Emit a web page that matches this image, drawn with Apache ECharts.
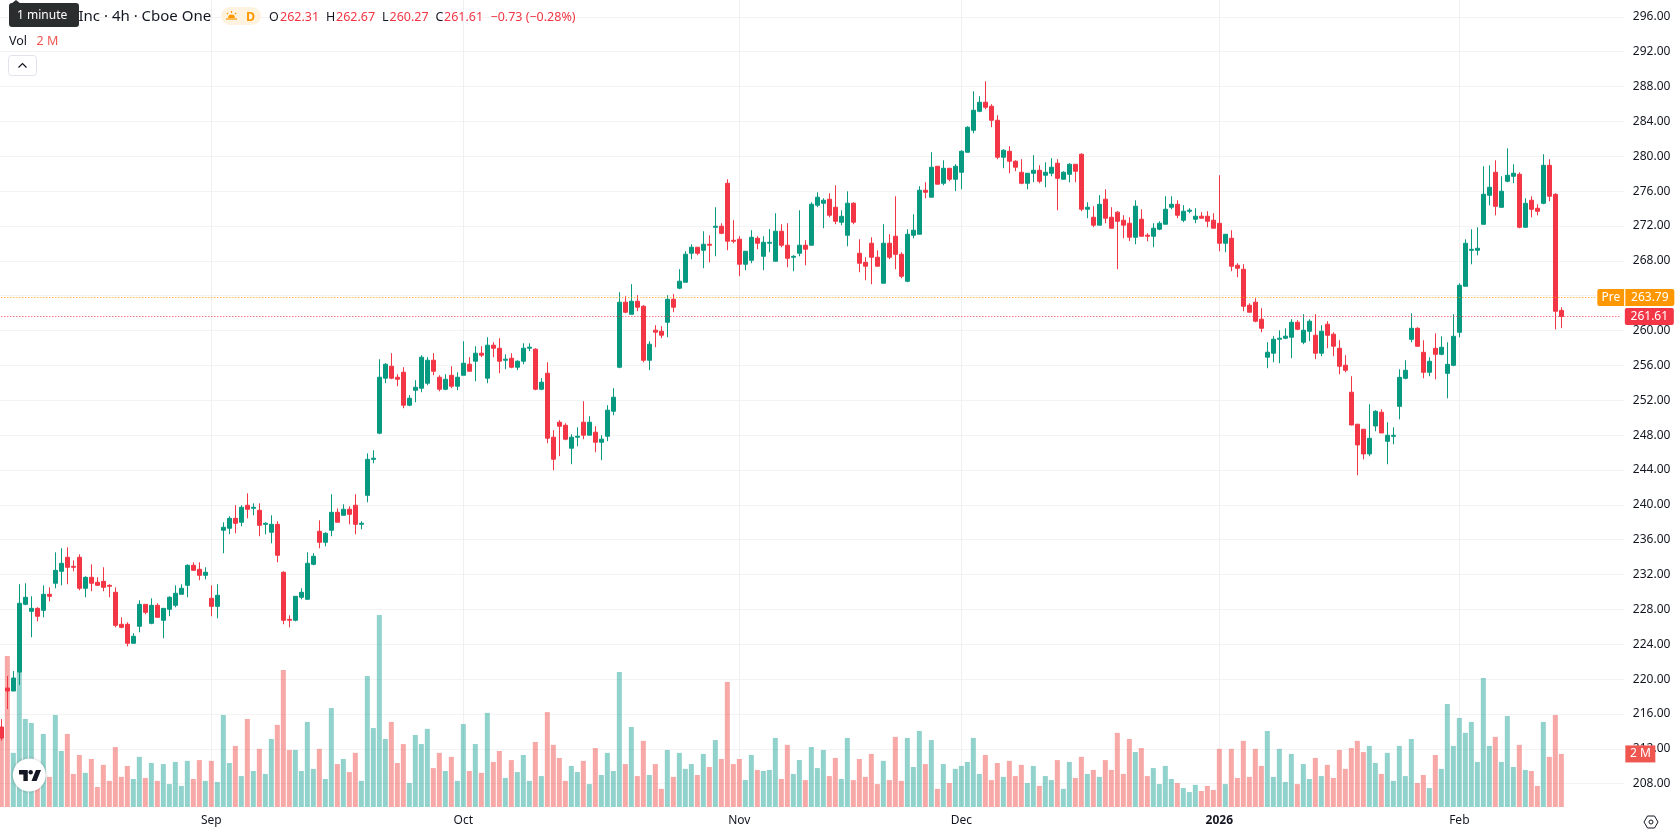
<!DOCTYPE html>
<html>
<head>
<meta charset="utf-8">
<title>Inc · 4h · Cboe One</title>
<script src="https://cdn.jsdelivr.net/npm/echarts@6/dist/echarts.min.js"></script>
<style>
  html, body { margin: 0; padding: 0; background: #ffffff; overflow: hidden; }
  /* The canvas starts two pixels left of the page so the first bar can hang off the edge. */
  #chart { position: absolute; left: -2px; top: 0; width: 1680px; height: 835px; }
</style>
</head>
<body>
<div id="chart"></div>
<script>
// 4-hour session bars, oldest first.
const opens = [
214.50,218.97,218.63,220.81,228.58,227.78,228.12,227.89,229.73,231.00,
232.37,233.98,232.94,233.98,230.42,231.68,231.11,231.22,230.76,229.96,
226.29,226.29,224.11,226.06,228.58,226.40,228.47,226.75,228.01,228.47,
229.73,230.76,233.06,232.60,231.91,229.27,228.35,237.08,237.31,238.45,
238.00,239.95,239.60,239.37,237.76,236.85,237.76,232.26,226.86,226.75,
229.39,229.16,233.17,236.96,235.70,237.08,239.14,238.80,239.49,239.95,
237.76,241.09,245.22,248.22,254.53,255.90,254.64,255.22,251.43,253.15,
253.38,253.95,256.59,254.64,253.26,254.87,253.61,254.87,256.13,256.48,
257.40,254.53,258.32,257.97,256.59,256.82,255.79,256.48,257.97,257.86,
253.26,255.10,247.76,249.48,249.13,246.49,247.76,249.48,247.99,248.33,
247.18,247.87,250.74,255.79,263.25,261.87,263.36,262.79,256.59,260.04,
259.92,260.95,263.59,264.86,265.54,268.87,269.56,269.21,269.90,271.85,
271.97,276.90,270.36,270.48,267.61,268.06,270.59,268.52,270.02,267.95,
271.39,269.79,268.41,268.87,269.79,269.79,274.38,274.61,275.07,274.15,
272.43,270.93,274.61,268.87,267.83,270.02,268.41,265.43,270.02,270.82,
268.75,265.65,270.93,271.05,276.10,275.30,278.85,276.90,278.62,277.36,
278.16,280.46,282.98,285.16,286.20,285.74,284.13,279.89,280.57,279.43,
278.16,276.90,278.05,278.39,277.82,278.05,279.20,277.36,277.93,279.08,
280.23,273.92,273.00,272.09,275.07,273.00,273.58,272.66,272.31,270.71,
272.77,270.94,270.82,271.63,272.20,274.15,274.49,272.66,273.69,272.77,
273.12,273.12,272.66,272.31,270.02,270.59,267.49,267.03,262.90,263.25,
261.30,256.94,257.40,259.00,259.12,259.23,260.95,258.66,259.92,259.46,
257.40,260.72,259.58,257.97,256.02,252.92,249.25,248.67,245.84,249.05,
250.62,247.29,247.86,251.30,254.52,258.99,260.26,257.50,255.21,257.96,
257.27,255.09,256.01,259.80,265.08,269.21,269.21,272.19,275.52,278.16,
274.14,277.13,277.70,277.93,271.85,274.95,274.03,274.60,278.96,275.63,
262.31];

const closes = [
213.23,218.63,220.12,228.70,229.39,228.12,227.21,229.73,229.50,232.48,
233.29,232.83,232.83,230.42,231.68,231.00,230.76,230.53,230.65,226.17,
225.94,224.11,224.91,228.58,227.66,228.47,227.09,228.12,229.39,229.85,
230.42,233.06,232.48,231.91,232.26,228.35,229.62,237.42,238.45,237.88,
239.72,239.49,239.72,237.65,237.88,237.76,234.21,226.75,226.75,229.50,
229.96,233.29,234.09,235.70,236.73,239.14,238.00,239.49,238.91,237.76,
237.88,245.22,245.34,254.64,256.13,254.53,254.41,251.43,252.23,253.49,
256.94,256.59,255.33,253.26,254.41,253.61,254.64,256.25,255.33,257.40,
257.17,258.32,257.97,256.48,256.71,255.79,256.48,257.97,258.09,253.26,
254.07,247.64,245.23,249.02,247.53,247.76,247.87,247.99,249.48,247.18,
247.53,250.86,252.35,263.25,262.10,263.36,262.68,256.59,258.43,259.81,
259.46,263.59,262.68,265.66,268.75,269.56,268.87,269.90,269.79,271.97,
271.16,270.25,270.25,267.61,269.10,270.70,270.02,270.13,270.13,271.39,
269.79,268.29,268.52,269.79,269.33,274.49,275.30,274.95,273.23,272.54,
273.11,274.61,272.43,267.72,267.38,268.41,267.38,270.02,268.41,268.75,
266.23,271.05,271.51,276.10,275.87,278.74,276.79,278.62,277.36,278.85,
280.57,283.33,285.28,286.20,285.62,284.13,279.89,280.69,279.43,278.74,
276.90,278.05,278.39,277.13,278.16,278.74,277.47,278.16,279.08,278.28,
273.92,274.15,272.09,274.49,272.89,271.74,272.54,272.09,270.71,274.27,
270.82,270.82,271.74,272.31,273.92,274.49,273.23,273.69,273.81,273.12,
272.89,272.54,271.74,270.02,271.05,267.38,267.15,262.79,262.10,261.07,
260.26,257.51,259.00,259.12,259.35,260.95,260.15,260.03,261.07,257.40,
259.92,259.46,258.20,255.90,255.44,249.16,246.87,245.84,247.63,250.73,
248.25,247.98,247.98,254.63,255.44,260.26,258.19,255.21,256.47,257.27,
258.08,256.12,259.34,265.19,270.01,269.32,269.44,275.64,276.44,274.26,
275.98,277.82,278.05,271.85,274.60,273.91,273.68,278.96,275.41,262.21,
261.61];

const highs = [
215.41,220.35,220.92,230.88,231.00,229.50,228.24,230.76,230.53,234.55,
235.01,235.12,233.63,234.32,231.80,233.17,231.68,232.83,230.88,230.53,
227.09,226.52,225.26,229.04,228.58,229.27,228.70,228.12,229.50,230.76,
230.88,233.17,233.40,233.40,232.83,230.76,230.88,237.99,238.68,239.95,
239.95,241.32,240.17,240.17,237.99,238.80,238.11,232.37,227.32,229.50,
230.42,234.55,234.44,238.22,236.85,241.21,239.60,240.06,239.83,241.21,
238.11,245.91,246.26,256.71,256.25,257.40,254.99,255.79,252.58,254.30,
257.17,256.94,257.40,254.87,254.99,255.90,255.22,258.77,256.94,258.20,
258.20,259.23,258.66,259.12,257.28,257.40,256.59,258.54,258.54,257.97,
254.53,256.36,248.56,249.71,249.36,248.10,248.90,251.89,250.17,249.02,
247.99,251.43,253.38,264.40,263.94,265.32,264.05,262.91,258.77,260.61,
260.50,264.05,264.17,267.04,269.10,269.90,269.56,271.39,270.93,274.15,
272.31,277.36,272.66,270.82,269.10,271.51,270.82,270.82,271.62,273.46,
272.20,272.31,268.64,273.80,270.36,274.72,275.87,275.18,275.75,276.67,
273.80,275.98,274.72,270.47,268.41,270.70,269.21,272.20,271.05,275.41,
268.98,271.62,273.34,276.56,277.02,280.46,278.85,279.54,278.62,279.08,
280.69,283.44,287.46,286.89,288.61,285.97,284.71,280.80,281.15,279.54,
279.66,278.05,280.12,278.97,279.31,279.77,279.66,278.28,279.20,279.08,
280.34,274.72,274.27,275.53,276.22,274.15,273.69,273.23,273.00,274.95,
273.92,271.17,272.31,272.54,275.41,275.41,274.95,274.38,274.04,274.04,
273.58,273.69,273.46,277.82,271.05,271.51,267.72,267.61,263.13,263.71,
262.56,258.66,259.35,260.03,260.26,261.30,261.18,261.87,261.30,261.87,
260.61,261.07,259.80,258.89,257.17,254.76,249.24,248.67,251.54,250.85,
250.96,249.47,248.90,255.55,256.58,261.98,260.37,258.88,256.93,259.68,
259.34,258.65,261.86,265.42,270.47,271.62,271.85,278.85,278.96,279.54,
277.70,280.91,279.08,278.16,275.18,275.41,274.49,280.23,279.65,275.75,
262.67];

const lows = [
212.93,216.56,218.63,219.32,228.47,224.80,226.63,227.09,228.93,230.42,
230.76,230.88,232.37,230.19,229.39,230.08,230.76,230.08,229.39,225.94,
225.83,223.76,224.11,225.37,227.44,226.29,227.09,224.68,227.21,228.24,
229.73,229.39,232.48,231.34,231.45,227.21,226.98,234.44,236.62,236.73,
237.53,238.45,238.80,236.39,236.62,235.58,233.40,226.29,225.94,226.63,
229.16,229.12,233.06,235.01,235.24,236.39,238.00,238.80,237.76,236.62,
237.19,240.29,244.77,248.10,253.95,254.41,253.61,251.08,251.31,251.77,
252.92,253.72,254.87,253.03,253.15,253.38,253.15,254.87,255.33,254.18,
256.94,253.95,256.94,255.10,255.56,255.67,255.45,256.13,257.63,253.15,
253.15,247.07,243.97,245.58,247.41,244.66,246.72,247.53,247.99,246.03,
245.12,247.30,250.28,255.67,261.99,261.87,262.22,256.36,255.45,258.09,
259.12,259.23,262.10,264.74,265.54,268.18,268.64,267.15,267.83,268.52,
271.05,269.21,270.02,266.23,266.92,267.72,269.33,266.92,268.98,267.95,
269.56,267.26,266.80,268.52,267.49,269.79,274.15,271.74,273.00,272.20,
272.08,269.67,272.20,266.69,265.77,265.31,267.38,265.43,268.18,267.03,
266.00,265.54,270.59,271.05,275.18,275.30,276.79,276.67,277.13,276.00,
276.21,280.46,282.64,285.05,285.39,283.33,279.66,278.62,278.05,278.28,
276.79,276.21,277.02,276.90,276.44,277.70,273.80,277.36,277.00,277.02,
273.69,272.89,271.86,272.09,272.31,271.74,267.04,270.59,270.25,269.90,
270.82,270.25,269.56,271.51,272.20,273.92,272.89,272.43,273.46,272.31,
272.89,271.86,271.74,269.10,268.99,266.81,266.12,262.22,262.10,260.95,
259.80,255.67,256.36,256.25,259.00,256.82,260.03,258.43,258.77,256.71,
257.05,257.97,257.05,254.98,255.21,249.13,243.39,245.22,245.57,248.44,
248.25,244.65,246.94,249.81,254.40,258.65,258.19,254.52,254.75,254.40,
257.16,252.22,255.90,259.22,265.08,267.60,268.63,272.19,274.37,273.22,
274.14,277.01,276.90,271.73,271.85,273.00,273.22,274.49,274.83,260.14,
260.27];

// Volume per bar, in millions of shares.
const volumes = [
2.58,5.66,2.03,5.06,3.30,3.15,1.51,2.74,1.13,3.45,
2.10,2.74,1.24,1.95,1.28,1.80,0.75,1.58,0.98,2.25,
1.13,1.54,1.05,1.88,1.09,1.65,0.98,1.61,0.86,1.69,
0.79,1.73,1.05,1.76,0.98,1.73,0.94,3.45,1.65,2.29,
1.16,3.30,1.35,2.18,1.24,2.55,3.08,5.14,2.14,2.14,
1.35,3.19,1.43,2.18,1.05,3.71,1.61,1.80,1.31,2.03,
0.98,4.91,2.96,7.20,2.55,3.19,1.65,2.36,0.90,2.70,
2.36,2.93,1.46,2.03,1.35,1.88,0.98,3.11,1.35,2.36,
1.28,3.53,1.69,2.10,1.09,1.76,1.31,1.95,0.98,2.44,
1.16,3.56,2.33,1.84,0.98,1.54,1.31,1.73,0.86,2.21,
1.20,2.03,1.35,5.06,1.61,3.00,1.16,2.48,1.20,1.61,
0.68,2.14,1.13,2.03,1.43,1.61,1.20,1.99,1.50,2.51,
1.80,4.69,1.61,1.80,1.01,1.95,1.39,1.35,1.39,2.59,
1.05,2.33,1.24,1.76,1.01,2.25,1.46,2.14,1.16,1.84,
1.05,2.59,1.01,1.80,1.13,1.99,0.86,1.73,1.01,2.63,
0.98,2.59,1.50,2.85,1.61,2.51,0.68,1.61,0.90,1.43,
1.54,1.69,2.59,1.24,1.95,1.01,1.65,1.13,1.73,1.16,
1.58,0.90,1.54,0.79,1.16,1.01,1.76,0.68,1.69,1.09,
1.88,1.24,1.39,1.13,1.76,1.39,2.78,1.24,2.55,2.06,
2.21,1.16,1.46,0.86,1.54,1.05,0.90,0.71,0.56,0.83,
0.60,0.79,0.64,2.18,0.86,2.18,1.09,2.48,1.13,2.18,
1.54,2.85,1.13,2.18,0.94,1.99,0.86,1.61,1.05,1.84,
1.16,1.58,1.09,2.14,1.43,2.21,2.48,2.06,2.29,1.65,
1.24,2.03,0.98,2.29,1.16,2.55,0.90,1.20,0.71,1.95,
1.43,3.86,2.29,3.34,2.78,3.19,1.69,4.84,2.29,2.63,
1.69,3.41,1.50,2.33,1.39,1.35,0.79,3.19,1.88,3.45,
1.99];

// Month ticks on the time axis and the bar each one falls on.
const tickBars = [35, 77, 123, 160, 203, 243];
const tickLabels = ['Sep', 'Oct', 'Nov', 'Dec', '2026', 'Feb'];

const lastPrice = 261.61;
const prePrice = 263.79;
const lastVolumeLabel = '2 M';

const UP = '#089981';
const DOWN = '#F23645';
const VOL_UP = '#26A69A';
const VOL_DOWN = '#EF5350';
const INK = '#131722';
const GRID = '#F3F3F3';
const FONT = '"Noto Sans", sans-serif';

// The axis reserves ten empty bars of space after the last one.
const barSlots = 271;
const categories = [];
for (let i = 0; i < barSlots; i++) categories.push(String(i));

const candleData = opens.map((o, i) => [o, closes[i], lows[i], highs[i]]);
const volumeData = volumes.map((v, i) => ({
  value: v,
  itemStyle: { color: closes[i] < opens[i] ? VOL_DOWN : VOL_UP, opacity: 0.5 }
}));

const isTick = (index) => tickBars.indexOf(index) >= 0;

const text = (x, y, str, fill, size, weight) => ({
  type: 'text', x, y, z: 50,
  style: {
    text: str, fill,
    font: (weight || 'normal') + ' ' + size + 'px ' + FONT,
    textVerticalAlign: 'middle'
  }
});

const sunRay = (x1, y1, x2, y2) => ({
  type: 'line', z: 50,
  shape: { x1, y1, x2, y2 },
  style: { stroke: '#FF9800', lineWidth: 1.2 }
});

const priceTag = { color: '#fff', fontFamily: FONT, fontSize: 12, height: 17, lineHeight: 17, align: 'center' };

const chart = echarts.init(document.getElementById('chart'), null, { renderer: 'canvas' });

chart.setOption({
  animation: false,
  backgroundColor: '#ffffff',
  grid: [
    { left: 0.33, width: 1626, top: 16.83, height: 766.83, containLabel: false },
    { left: 0.33, width: 1626, top: 0, height: 807, containLabel: false }
  ],
  xAxis: [
    { type: 'category', gridIndex: 0, data: categories, show: false, boundaryGap: true },
    {
      type: 'category', gridIndex: 1, data: categories, boundaryGap: true,
      axisLine: { show: false },
      axisTick: { show: false },
      splitLine: {
        show: true, interval: isTick, alignWithLabel: true,
        lineStyle: { color: '#F0F0F0', width: 1 }
      },
      axisLabel: {
        interval: isTick, margin: 8, color: INK, fontFamily: FONT, fontSize: 12,
        hideOverlap: false,
        formatter: (value, index) => {
          const label = tickLabels[tickBars.indexOf(index)];
          return label === '2026' ? '{year|' + label + '}' : label;
        },
        rich: { year: { fontWeight: 'bold', fontSize: 12, fontFamily: FONT, color: INK } }
      }
    }
  ],
  yAxis: [
    {
      type: 'value', gridIndex: 0, position: 'right', min: 208, max: 296, interval: 4,
      axisLine: { show: false }, axisTick: { show: false },
      splitLine: { show: true, lineStyle: { color: GRID, width: 1 } },
      axisLabel: {
        margin: 8.5, color: INK, fontFamily: FONT, fontSize: 12,
        formatter: (v) => v.toFixed(2)
      }
    },
    {
      type: 'value', gridIndex: 1, position: 'right', min: 0, max: 30.26, show: false,
      splitLine: { show: false }
    }
  ],
  series: [
    {
      type: 'bar', name: 'Vol', xAxisIndex: 1, yAxisIndex: 1, z: 2,
      data: volumeData, barWidth: 5, barGap: 0, silent: true,
      markLine: {
        silent: true, symbol: 'none', z: 6,
        lineStyle: { color: 'rgba(0,0,0,0)', width: 1, opacity: 1 },
        label: {
          show: true, position: 'end', distance: 1, formatter: '{tag|' + lastVolumeLabel + '}',
          rich: { tag: Object.assign({}, priceTag, { backgroundColor: '#F05650', width: 30 }) }
        },
        data: [{ yAxis: volumes[volumes.length - 1] }]
      }
    },
    {
      type: 'candlestick', name: 'Price', xAxisIndex: 0, yAxisIndex: 0, z: 4,
      data: candleData, barWidth: 4, silent: true,
      itemStyle: {
        color: UP, color0: DOWN, borderColor: UP, borderColor0: DOWN, borderWidth: 1
      },
      markLine: {
        silent: true, symbol: 'none', z: 7,
        data: [
          [
            {
              coord: ['0', prePrice],
              lineStyle: { color: '#FF9800', type: [1, 2], width: 1 },
              label: {
                show: true, position: 'end', distance: 0,
                formatter: '{pre|Pre}{gap|}{val|' + prePrice.toFixed(2) + '}',
                rich: {
                  pre: Object.assign({}, priceTag, { backgroundColor: '#FF9800', width: 27, borderRadius: [2, 0, 0, 2] }),
                  gap: { width: 1, height: 17, backgroundColor: '#fff' },
                  val: Object.assign({}, priceTag, { backgroundColor: '#FF9800', width: 49, borderRadius: [0, 2, 2, 0] })
                }
              }
            },
            { coord: ['266', prePrice] }
          ],
          [
            {
              coord: ['0', lastPrice],
              lineStyle: { color: DOWN, type: [1, 2], width: 1 },
              label: {
                show: true, position: 'end', distance: 3.5,
                formatter: '{val|' + lastPrice.toFixed(2) + '}',
                rich: { val: Object.assign({}, priceTag, { backgroundColor: DOWN, width: 49, borderRadius: 2 }) }
              }
            },
            { coord: ['270', lastPrice] }
          ]
        ]
      }
    }
  ],
  graphic: {
    elements: [{
      // Page-space overlay: legend row, controls and badge.
      type: 'group', x: 2, y: 0,
      children: [
        text(78.5, 17, 'Inc · 4h · Cboe One', INK, 15),
        { type: 'rect', z: 49, shape: { x: 221, y: 7, width: 40, height: 18, r: 9 }, style: { fill: '#FFF3E0' } },
        {
          type: 'sector', z: 50,
          shape: { cx: 231.5, cy: 18, r: 3.4, r0: 0, startAngle: Math.PI, endAngle: Math.PI * 2 },
          style: { fill: '#FF9800' }
        },
        sunRay(226, 19, 237, 19),
        sunRay(231.5, 11, 231.5, 13),
        sunRay(226.8, 13, 228, 14.2),
        sunRay(236.2, 13, 235, 14.2),
        text(246, 17, 'D', '#FF9800', 12.5, 'bold'),
        text(269, 17, 'O', INK, 12.5),
        text(280, 17, '262.31', DOWN, 12.5),
        text(326, 17, 'H', INK, 12.5),
        text(336, 17, '262.67', DOWN, 12.5),
        text(382, 17, 'L', INK, 12.5),
        text(389.5, 17, '260.27', DOWN, 12.5),
        text(435.5, 17, 'C', INK, 12.5),
        text(444, 17, '261.61', DOWN, 12.5),
        text(490.5, 17, '−0.73 (−0.28%)', DOWN, 12.5),
        text(9, 41.5, 'Vol', INK, 12.5),
        text(36.5, 41.5, lastVolumeLabel, '#F05650', 12.5),
        {
          type: 'rect', z: 49, shape: { x: 8.5, y: 55.5, width: 28, height: 20, r: 3 },
          style: { fill: '#fff', stroke: '#E0E3EB', lineWidth: 1 }
        },
        {
          type: 'polyline', z: 50, shape: { points: [[18.5, 67.5], [22.5, 63.5], [26.5, 67.5]] },
          style: { stroke: INK, lineWidth: 1.2, fill: null }
        },
        { type: 'polygon', z: 59, shape: { points: [[11, 4], [16, 0], [21, 4]] }, style: { fill: '#2A2E2F' } },
        { type: 'rect', z: 59, shape: { x: 9, y: 3, width: 70, height: 24, r: 3 }, style: { fill: '#2A2E2F' } },
        { type: 'text', x: 17, y: 16, z: 60, style: { text: '1 minute', fill: '#fff', font: '12px ' + FONT, textVerticalAlign: 'middle' } },
        {
          type: 'circle', z: 40, shape: { cx: 29.3, cy: 775, r: 16.5 },
          style: { fill: '#fff', shadowBlur: 3, shadowColor: 'rgba(0,0,0,0.25)' }
        },
        {
          type: 'polygon', z: 41,
          shape: { points: [[27.8, 770], [19, 770], [19, 774.4], [23.4, 774.4], [23.4, 781], [27.8, 781]] },
          style: { fill: INK }
        },
        {
          type: 'polygon', z: 41,
          shape: { points: [[36.6, 781], [31.5, 781], [35.9, 770], [41, 770]] },
          style: { fill: INK }
        },
        { type: 'circle', z: 41, shape: { cx: 30.7, cy: 772.2, r: 2.2 }, style: { fill: INK } },
        {
          type: 'polygon', z: 50,
          shape: { points: [[1644, 822], [1647.5, 816], [1654.5, 816], [1658, 822], [1654.5, 828], [1647.5, 828]] },
          style: { fill: '#fff', stroke: INK, lineWidth: 1 }
        },
        { type: 'circle', z: 51, shape: { cx: 1651, cy: 822, r: 2 }, style: { fill: '#fff', stroke: INK, lineWidth: 1 } }
      ]
    }]
  }
});
</script>
</body>
</html>
